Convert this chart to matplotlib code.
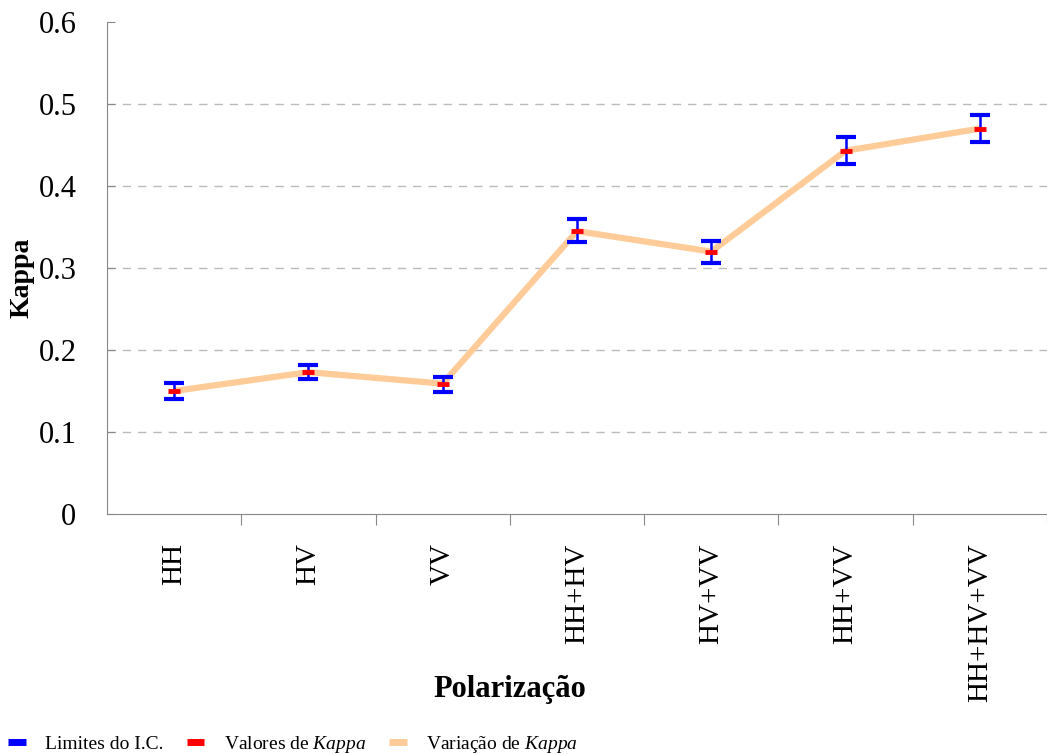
import numpy as np
import matplotlib
matplotlib.use("Agg")
import matplotlib.pyplot as plt
from matplotlib.lines import Line2D

plt.rcParams['font.family'] = ['Liberation Serif', 'DejaVu Serif']
plt.rcParams['mathtext.fontset'] = 'custom'
plt.rcParams['mathtext.rm'] = 'Liberation Serif'
plt.rcParams['mathtext.it'] = 'Liberation Serif:italic'

# kappa por combinacao de polarizacao, com limites do intervalo de confianca
polarizacoes = ["HH", "HV", "VV", "HH+HV", "HV+VV", "HH+VV", "HH+HV+VV"]
kappa = [0.150, 0.173, 0.159, 0.345, 0.320, 0.443, 0.470]
ic_sup = [0.160, 0.182, 0.167, 0.360, 0.333, 0.460, 0.487]
ic_inf = [0.140, 0.165, 0.149, 0.332, 0.306, 0.427, 0.454]
yticks = [0, 0.1, 0.2, 0.3, 0.4, 0.5, 0.6]

azul = "#0000FF"
vermelho = "#FF0000"
pessego = "#FFCC99"

fig = plt.figure(figsize=(10.47, 7.54), dpi=100)
ax = fig.add_axes([0.1022, 0.3183, 0.8978, 0.6525])

x = np.arange(len(polarizacoes))
k = np.array(kappa)
erro = [k - np.array(ic_inf), np.array(ic_sup) - k]

for yv in yticks[1:-1]:
    ax.axhline(yv, color="#BBBBBB", lw=1, ls=(0, (6, 5)), zorder=0)

ax.plot(x, k, color=pessego, lw=4.5, zorder=2, solid_capstyle="butt")
ax.errorbar(x, k, yerr=erro, fmt="none", ecolor=azul, elinewidth=1.8,
            capsize=7.5, capthick=3, zorder=3)
ax.plot(x, k, ls="none", marker="_", ms=8.5, mew=3.5, color=vermelho, zorder=4)

ax.set_xlim(-0.5, 6.45)
ax.set_ylim(0, 0.6)
ax.set_yticks(yticks)
ax.set_yticklabels(["0", "0.1", "0.2", "0.3", "0.4", "0.5", "0.6"], fontsize=22)
ax.tick_params(axis="y", direction="in", length=6, color="#888888", pad=22)

# rotulos das categorias no centro, marcas de tick entre elas
ax.set_xticks(x + 0.5, minor=False)
ax.set_xticklabels([])
ax.set_xticks(x, minor=True)
ax.set_xticklabels(polarizacoes, minor=True, rotation=90, fontsize=21)
ax.tick_params(axis="x", which="major", direction="out", length=8, color="#888888")
ax.tick_params(axis="x", which="minor", length=0, pad=21)

for s in ["top", "right"]:
    ax.spines[s].set_visible(False)
for s in ["left", "bottom"]:
    ax.spines[s].set_color("#888888")

fig.text(0.021, 0.631, "Kappa", fontsize=20, fontweight="bold", rotation=90,
         ha="center", va="center")
fig.text(0.487, 0.085, "Polarização", fontsize=22, fontweight="bold",
         ha="center", va="center")

handles = [Line2D([], [], color=c, lw=5, solid_capstyle="butt")
           for c in (azul, vermelho, pessego)]
rotulos = ["Limites do I.C.", r"Valores de $\it{Kappa}$", r"Variação de $\it{Kappa}$"]
fig.legend(handles, rotulos, loc="lower left", bbox_to_anchor=(-0.009, -0.024),
           ncol=3, frameon=False, fontsize=14, handlelength=0.9,
           handletextpad=1.0, columnspacing=1.2)

fig.savefig("out.png", dpi=100)
